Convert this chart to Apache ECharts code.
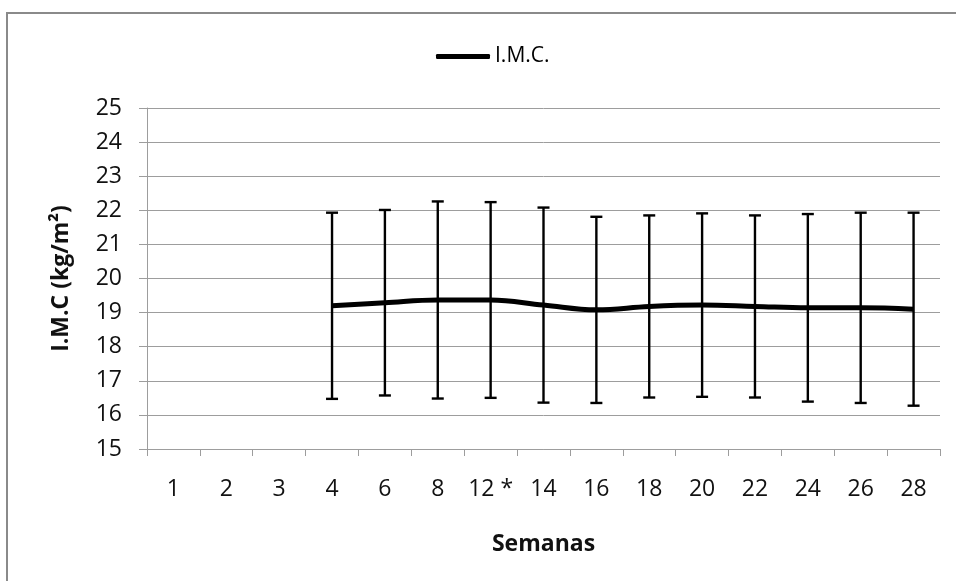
<!DOCTYPE html>
<html>
<head>
<meta charset="utf-8">
<script src="https://cdn.jsdelivr.net/npm/echarts@6/dist/echarts.min.js"></script>
<style>
  html, body { margin: 0; padding: 0; background: #fff; }
  #chart { width: 956px; height: 581px; }
</style>
</head>
<body>
<div id="chart"></div>
<script>
// Weeks of follow-up (category axis)
const weeks = ['1', '2', '3', '4', '6', '8', '12 *', '14', '16', '18', '20', '22', '24', '26', '28'];
// Mean BMI per week (no measurements for weeks 1-3)
const bmiMean = [null, null, null, 19.20, 19.29, 19.37, 19.37, 19.22, 19.08, 19.18, 19.22, 19.18, 19.14, 19.14, 19.10];
// Standard deviation per week, drawn as error bars
const bmiSd = [null, null, null, 2.73, 2.72, 2.89, 2.87, 2.86, 2.73, 2.67, 2.69, 2.67, 2.75, 2.79, 2.83];
// Value axis range
const yMin = 15;
const yMax = 25;
const yStep = 1;

const FONT = '"Open Sans", "Noto Sans", sans-serif';
const GRID_COLOR = '#9d9d9d';

// [categoryIndex, low, high] for each week that has data
const errorData = [];
weeks.forEach(function (w, i) {
  if (bmiMean[i] != null) {
    errorData.push([i, bmiMean[i] - bmiSd[i], bmiMean[i] + bmiSd[i]]);
  }
});

const chart = echarts.init(document.getElementById('chart'), null, { renderer: 'canvas' });

chart.setOption({
  animation: false,
  backgroundColor: '#ffffff',
  textStyle: { fontFamily: FONT },
  graphic: [{
    type: 'rect',
    silent: true,
    z: -10,
    shape: { x: 7, y: 13, width: 1100, height: 700 },
    style: { fill: null, stroke: '#8a8a8a', lineWidth: 2 }
  }],
  legend: {
    left: 431,
    top: 41,
    itemWidth: 54,
    itemHeight: 5,
    data: [{ name: 'I.M.C.', icon: 'roundRect' }],
    itemStyle: { color: '#000' },
    textStyle: { fontFamily: FONT, fontSize: 21, color: '#000' }
  },
  grid: { left: 147, right: 16, top: 108, bottom: 132, containLabel: false },
  xAxis: {
    type: 'category',
    data: weeks,
    boundaryGap: true,
    axisLine: { show: true, lineStyle: { color: GRID_COLOR, width: 1 } },
    axisTick: { show: true, length: 7, interval: 0, lineStyle: { color: GRID_COLOR } },
    axisLabel: { interval: 0, margin: 29, fontSize: 23, color: '#111', fontFamily: FONT },
    splitLine: { show: false },
    name: 'Semanas',
    nameLocation: 'middle',
    nameGap: 84,
    nameTextStyle: { fontFamily: FONT, fontSize: 23, fontWeight: 'bold', color: '#111' }
  },
  yAxis: {
    type: 'value',
    min: yMin,
    max: yMax,
    interval: yStep,
    axisLine: { show: true, lineStyle: { color: GRID_COLOR, width: 1 } },
    axisTick: { show: true, length: 8, lineStyle: { color: GRID_COLOR } },
    axisLabel: { margin: 25, fontSize: 23, color: '#111', fontFamily: FONT },
    splitLine: { show: true, lineStyle: { color: GRID_COLOR, width: 1 } },
    name: 'I.M.C (kg/m²)',
    nameLocation: 'middle',
    nameRotate: 90,
    nameGap: 74,
    nameTextStyle: { fontFamily: FONT, fontSize: 23, fontWeight: 'bold', color: '#111' }
  },
  series: [
    {
      name: 'SD',
      type: 'custom',
      z: 2,
      data: errorData,
      encode: { x: 0, y: [1, 2] },
      renderItem: function (params, api) {
        const idx = api.value(0);
        const lo = api.coord([idx, api.value(1)]);
        const hi = api.coord([idx, api.value(2)]);
        const half = 6;
        const style = { stroke: '#000', lineWidth: 2.4, fill: null };
        return {
          type: 'group',
          children: [
            { type: 'line', shape: { x1: lo[0], y1: lo[1], x2: hi[0], y2: hi[1] }, style: style },
            { type: 'line', shape: { x1: lo[0] - half, y1: lo[1], x2: lo[0] + half, y2: lo[1] }, style: style },
            { type: 'line', shape: { x1: hi[0] - half, y1: hi[1], x2: hi[0] + half, y2: hi[1] }, style: style }
          ]
        };
      }
    },
    {
      name: 'I.M.C.',
      type: 'line',
      z: 3,
      data: bmiMean,
      smooth: 0.4,
      symbol: 'none',
      connectNulls: false,
      color: '#000',
      lineStyle: { color: '#000', width: 5 }
    }
  ]
});
</script>
</body>
</html>
